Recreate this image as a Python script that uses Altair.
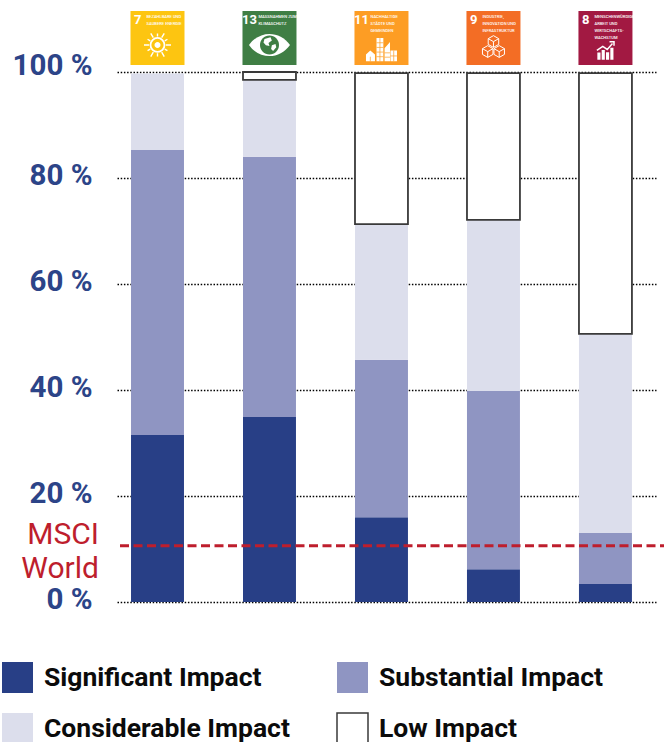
import math
import altair as alt
import pandas as pd

# Share of each portfolio by SDG and impact class, in percent
goals = ["SDG 7", "SDG 13", "SDG 11", "SDG 9", "SDG 8"]
classes = ["Significant Impact", "Substantial Impact", "Considerable Impact", "Low Impact"]
significant = [31.5, 34.9, 16.0, 6.2, 3.4]
substantial = [53.8, 49.1, 29.7, 33.6, 9.6]
considerable = [14.4, 14.5, 25.6, 32.3, 37.6]
low = [0.0, 1.5, 28.5, 27.7, 49.2]
class_colors = ["#283f86", "#8f95c2", "#dcdeec", "#ffffff"]
class_strokes = ["transparent", "transparent", "transparent", "#3a3a3a"]

tick_values = [0, 20, 40, 60, 80, 100]
benchmark = 10.6
benchmark_lines = ["MSCI", "World"]
benchmark_line_y = [12.6, 6.3]

goal_numbers = ["7", "13", "11", "9", "8"]
goal_colors = ["#fdc511", "#3f7e44", "#fd9d24", "#f36d25", "#a21942"]
goal_captions = [
    ["BEZAHLBARE UND", "SAUBERE ENERGIE"],
    ["MASSNAHMEN ZUM", "KLIMASCHUTZ"],
    ["NACHHALTIGE", "STÄDTE UND", "GEMEINDEN"],
    ["INDUSTRIE,", "INNOVATION UND", "INFRASTRUKTUR"],
    ["MENSCHENWÜRDIGE", "ARBEIT UND", "WIRTSCHAFTS-", "WACHSTUM"],
]

Y_MAX = 597 / 5.3
y_scale = alt.Scale(domain=[0, Y_MAX], nice=False, zero=False)
x_scale = alt.Scale(domain=goals, paddingInner=0.527, paddingOuter=0.17, align=0.368)
x_enc = alt.X("goal:N", scale=x_scale, axis=None, sort=goals)

rows = []
for g, *vals in zip(goals, significant, substantial, considerable, low):
    for rank, (cls, v) in enumerate(zip(classes, vals)):
        if v > 0:
            rows.append({"goal": g, "impact": cls, "value": v, "rank": rank})

impact_legend = alt.Legend(
    title=None,
    orient="none",
    direction="horizontal",
    legendX=-116,
    legendY=656,
    columns=2,
    columnPadding=44,
    rowPadding=14,
    symbolType="square",
    symbolSize=961,
    symbolStrokeWidth=1.5,
    labelFont="Roboto",
    labelFontWeight=700,
    labelFontSize=26.5,
    labelColor="#0b0b0b",
    labelOffset=10,
    labelLimit=400,
    padding=0,
)

bars = (
    alt.Chart(pd.DataFrame(rows))
    .mark_bar(strokeWidth=1.8)
    .encode(
        x=x_enc,
        y=alt.Y(
            "value:Q",
            stack="zero",
            scale=y_scale,
            axis=alt.Axis(
                values=tick_values,
                title=None,
                domain=False,
                ticks=False,
                labelExpr="datum.value + ' %'",
                labelFont="Roboto",
                labelFontWeight=700,
                labelFontSize=29.5,
                labelColor="#2c4488",
                labelPadding=25,
                labelOffset=alt.expr("datum.value == 100 ? -7 : -3"),
                grid=True,
                gridColor="#000000",
                gridDash=[1.5, 1.7],
                gridWidth=1.5,
            ),
        ),
        color=alt.Color(
            "impact:N",
            scale=alt.Scale(domain=classes, range=class_colors),
            legend=impact_legend,
        ),
        stroke=alt.Stroke(
            "impact:N",
            scale=alt.Scale(domain=classes, range=class_strokes),
            legend=impact_legend,
        ),
        order=alt.Order("rank:Q"),
    )
)

benchmark_rule = (
    alt.Chart(pd.DataFrame({"v": [benchmark]}))
    .mark_rule(color="#be1e2d", strokeWidth=3, strokeDash=[9, 4.5])
    .encode(y=alt.Y("v:Q", scale=y_scale), x=alt.value(3), x2=alt.value(547))
)

benchmark_text = (
    alt.Chart(pd.DataFrame({"t": benchmark_lines, "v": benchmark_line_y}))
    .mark_text(align="right", baseline="middle", font="Roboto", fontSize=30, color="#be1e2d")
    .encode(y=alt.Y("v:Q", scale=y_scale), x=alt.value(-18), text="t:N")
)

# SDG tiles above the bars
tiles = (
    alt.Chart(pd.DataFrame({"goal": goals, "color": goal_colors, "top": [111.5] * 5, "bottom": [101.3] * 5}))
    .mark_bar(width=54)
    .encode(
        x=x_enc,
        y=alt.Y("top:Q", scale=y_scale),
        y2="bottom:Q",
        color=alt.Color("color:N", scale=None),
    )
)

# Tile numerals: two-digit goals sit closer to the caption
tile_numbers = [
    alt.Chart(pd.DataFrame({"goal": [g], "t": [n], "v": [109.8]}))
    .mark_text(
        align="right",
        baseline="middle",
        font="Roboto",
        fontWeight=700,
        fontSize=13,
        color="#ffffff",
        dx=-12.5 if len(n) > 1 else -16,
    )
    .encode(x=x_enc, y=alt.Y("v:Q", scale=y_scale), text="t:N")
    for g, n in zip(goals, goal_numbers)
]

caption_rows = []
for g, lines in zip(goals, goal_captions):
    for i, line in enumerate(lines):
        caption_rows.append({"goal": g, "t": line, "v": 110.4 - i * 1.3})

tile_captions = (
    alt.Chart(pd.DataFrame(caption_rows))
    .mark_text(align="left", baseline="middle", font="Roboto", fontWeight=500, fontSize=4.1, color="#ffffff", dx=-11)
    .encode(x=x_enc, y=alt.Y("v:Q", scale=y_scale), text="t:N")
)


def rays(n, r0, r1, r2):
    # Spokes of the sun, alternating long and short
    parts = []
    for k in range(n):
        a = 2 * math.pi * k / n
        r = r2 if k % 2 else r1
        parts.append(
            f"M{r0 * math.cos(a):.3f} {r0 * math.sin(a):.3f}L{r * math.cos(a):.3f} {r * math.sin(a):.3f}"
        )
    return "".join(parts)


CIRCLE = "M-1 0A1 1 0 1 0 1 0A1 1 0 1 0 -1 0Z"
EYE = "M-1 0C-.5 -.72 .5 -.72 1 0C.5 .72 -.5 .72 -1 0Z"
GLOBE_LAND = "M-.25 -.3L.05 -.38L.12 -.22L-.05 -.1L0 .05L-.18 .02L-.3 -.12ZM.12 .02L.3 -.05L.34 .12L.18 .3L.08 .2Z"
TOWERS = (
    "M-.32 -.75H.12V.75H-.32ZM.2 .75V-.1L.55 -.5V.75ZM.58 .05H1V.75H.58Z"
    "M-1 .75V.3L-.72 .05L-.42 .3V.75Z"
)
TOWER_GAPS = (
    "M-.32 -.45H.12M-.32 -.15H.12M-.32 .15H.12M-.32 .45H.12M-.1 -.75V.75"
    "M.2 .2H.55M.2 .48H.55M.58 .4H1M.79 .05V.75M-.72 .45V.75"
)
CUBES = (
    "M0 -1L.42 -.76V-.3L0 -.06L-.42 -.3V-.76ZM0 -.52L.42 -.76M0 -.52L-.42 -.76M0 -.52V-.06"
    "M-.46 -.2L-.04 .04V.5L-.46 .74L-.88 .5V.04ZM-.46 .28L-.04 .04M-.46 .28L-.88 .04M-.46 .28V.74"
    "M.46 -.2L.88 .04V.5L.46 .74L.04 .5V.04ZM.46 .28L.88 .04M.46 .28L.04 .04M.46 .28V.74"
)
GROWTH_BARS = "M-.9 .2H-.55V1H-.9ZM-.42 -.1H-.07V1H-.42ZM.06 .15H.41V1H.06ZM.54 -.35H.89V1H.54Z"
GROWTH_LINE = "M-.95 -.05L-.3 -.5L.2 -.15L.78 -.8M.45 -1H.95V-.55"

# goal, vertical position, shape, width in px, fill, stroke, stroke width
pictogram_parts = [
    ("SDG 7", 105.1, rays(12, 0.62, 1.0, 0.85), 27, None, "#ffffff", 1.4),
    ("SDG 7", 105.1, CIRCLE, 14, None, "#ffffff", 1.8),
    ("SDG 7", 105.1, CIRCLE, 6, "#ffffff", None, 0),
    ("SDG 13", 105.1, EYE, 41, "#ffffff", None, 0),
    ("SDG 13", 105.1, CIRCLE, 19, "#3f7e44", None, 0),
    ("SDG 13", 105.1, GLOBE_LAND, 40, "#ffffff", None, 0),
    ("SDG 11", 104.2, TOWERS, 31, "#ffffff", None, 0),
    ("SDG 11", 104.2, TOWER_GAPS, 31, None, "#fd9d24", 0.7),
    ("SDG 9", 104.5, CUBES, 25, None, "#ffffff", 1.0),
    ("SDG 8", 104.0, GROWTH_BARS, 18, "#ffffff", None, 0),
    ("SDG 8", 104.0, GROWTH_LINE, 18, None, "#ffffff", 1.5),
]

pictograms = []
for goal, v, shape, px, fill, stroke, sw in pictogram_parts:
    mark = {"shape": shape, "size": px * px, "opacity": 1, "filled": fill is not None}
    if fill:
        mark["fill"] = fill
    if stroke:
        mark["stroke"] = stroke
        mark["strokeWidth"] = sw
    pictograms.append(
        alt.Chart(pd.DataFrame({"goal": [goal], "v": [v]}))
        .mark_point(**mark)
        .encode(x=x_enc, y=alt.Y("v:Q", scale=y_scale))
    )

chart = (
    alt.layer(bars, tiles, *tile_numbers, tile_captions, *pictograms, benchmark_rule, benchmark_text)
    .resolve_scale(color="independent", stroke="independent")
    .properties(
        width=539,
        height=597,
        padding={"left": 117, "top": 5, "right": 8, "bottom": 140},
        autosize=alt.AutoSizeParams(type="none"),
    )
    .configure_view(stroke=None)
)

chart.save("out.html", embed_options={"renderer": "svg", "actions": False})
